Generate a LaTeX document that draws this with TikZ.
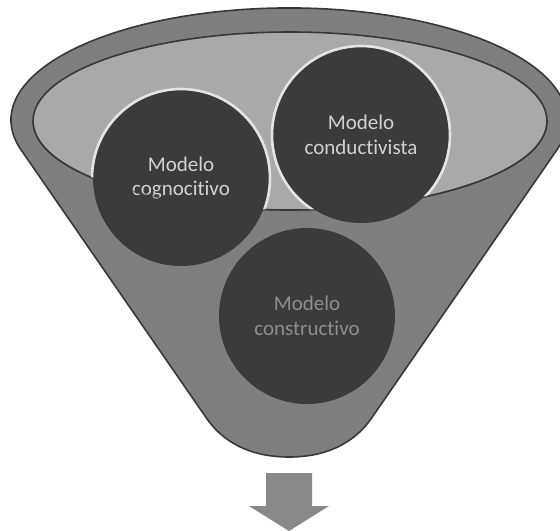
\documentclass[tikz,border=0pt]{standalone}
\usepackage{fontspec}
\setmainfont[Ligatures=NoCommon]{Carlito}
\definecolor{rimgray}{HTML}{7F7F7F}
\definecolor{bowlgray}{HTML}{A9A9A9}
\definecolor{ballgray}{HTML}{3B3B3B}
\definecolor{edgegray}{HTML}{383838}
\definecolor{ringwhite}{HTML}{E4E4E4}
\definecolor{textlight}{HTML}{D2D2D2}
\definecolor{textdim}{HTML}{8E8E8E}
\definecolor{arrowgray}{HTML}{898989}
\tikzset{
  funnelbody/.style={fill=rimgray, draw=edgegray, line width=0.8pt},
  bowl/.style={fill=bowlgray, draw=edgegray, line width=0.8pt},
  ball/.style={circle, fill=ballgray, minimum size=88pt, inner sep=0pt, align=center,
    font=\fontsize{10.5}{12.3}\selectfont},
  ring/.style={draw=ringwhite, line width=1.3pt},
  rimedge/.style={draw=edgegray, line width=0.7pt, opacity=0.55},
  downarrow/.style={fill=arrowgray}
}
\begin{document}
\begin{tikzpicture}[x=0.5pt,y=0.5pt]
\useasboundingbox (0,0) rectangle (560,-530);
% funnel outer shape
\draw[funnelbody] (21.1,-149.9) arc[start angle=195.5, end angle=-15.5, x radius=278, y radius=112]
  -- (373,-416) .. controls (356,-442) and (328,-457) .. (289,-457)
  .. controls (250,-457) and (222,-442) .. (205,-416) -- cycle;
% inner opening
\draw[bowl] (290,-121) ellipse [x radius=257, y radius=89];
% circles
\node[ball, text=textlight] (cog) at (181,-178) {Modelo\\cognocitivo};
\node[ball, text=textlight] (cond) at (361,-135) {Modelo\\conductivista};
\node[ball, text=textdim] (cons) at (307,-316) {Modelo\\constructivo};
% white rings visible inside the opening
\begin{scope}
  \clip (290,-121) ellipse [x radius=257, y radius=89];
  \draw[ring] (cog.center) circle[radius=89];
  \draw[ring] (cond.center) circle[radius=89];
\end{scope}
% front edge of the opening over the circles
\draw[rimedge] (33,-121) arc[start angle=180, end angle=360, x radius=257, y radius=89];
% output arrow
\fill[downarrow] (266,-473) -- (312,-473) -- (312,-506) -- (329,-506) -- (289,-531)
  -- (249,-506) -- (266,-506) -- cycle;
\end{tikzpicture}
\end{document}
